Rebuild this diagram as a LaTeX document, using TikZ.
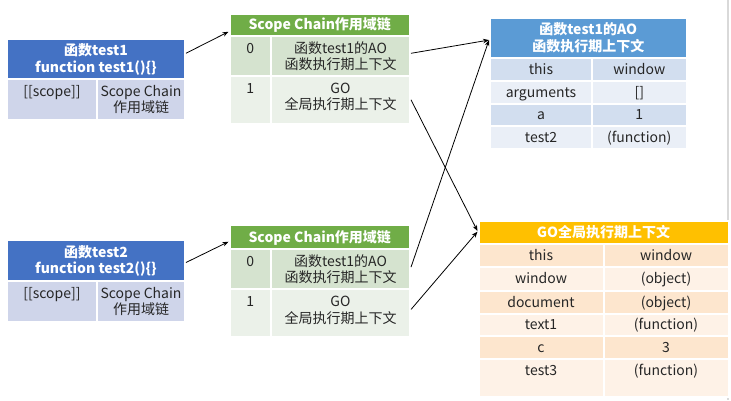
\documentclass[tikz,border=0pt]{standalone}
\usepackage{fontspec}
\setmainfont{Noto Sans CJK SC}
\usetikzlibrary{arrows.meta}
\definecolor{hblue}{HTML}{4472C4}
\definecolor{lblue}{HTML}{CFD5EA}
\definecolor{hgreen}{HTML}{70AD47}
\definecolor{gA}{HTML}{D5E3CF}
\definecolor{gB}{HTML}{EBF1E9}
\definecolor{aoblue}{HTML}{5B9BD5}
\definecolor{aA}{HTML}{D2DEEF}
\definecolor{aB}{HTML}{EAEFF7}
\definecolor{hgold}{HTML}{FFC000}
\definecolor{oA}{HTML}{FDE6CE}
\definecolor{oB}{HTML}{FEF2E7}
\definecolor{tgray}{HTML}{262626}
\definecolor{edgegray}{HTML}{D9D9D9}
\newcommand\fsz{\fontsize{14}{16.7}\selectfont}
\tikzset{
  cell/.style={draw=white, line width=2pt, inner sep=0pt, anchor=north west,
    text height=10pt, text depth=0pt, align=center, font=\fsz, text=tgray},
  head/.style={font=\fsz\bfseries, text=white},
  two/.style={text height=26.7pt},
  txt/.style={inner sep=0pt, text height=10pt, text depth=0pt, align=center,
    font=\fsz, text=tgray, anchor=north},
  arr/.style={draw=black, line width=0.8pt, -{Stealth[length=6pt,width=4.5pt]}}
}
% #1 extra options, #2 name, #3 fill, #4 x1, #5 y1, #6 x2, #7 y2, #8 text
\newcommand\mkcell[8][]{%
  \node[cell, fill=#3, minimum width={#6-#4}, minimum height={#7-#5}, #1] (#2) at (#4,#5) {#8};}
\begin{document}
\begin{tikzpicture}[x=1pt,y=-1pt]
\useasboundingbox (0,0) rectangle (731,400);
\fill[white] (0,0) rectangle (731,400);
\draw[edgegray, line width=1.2pt] (728,0) -- (728,400);

% ---- function test1
\mkcell[head,two]{t1h}{hblue}{6}{37.5}{184}{78}{函数test1\\function test1()\{\}}
\mkcell{t1a}{lblue}{6}{78}{96}{118.5}{}
\mkcell{t1b}{lblue}{96}{78}{184}{118.5}{}
\node[txt] (t1at) at ([yshift=-8pt]t1a.north) {[[scope]]};
\node[txt,two] (t1bt) at ([yshift=-8pt]t1b.north) {Scope Chain\\作用域链};

% ---- function test2
\mkcell[head,two]{t2h}{hblue}{6}{239}{184}{280}{函数test2\\function test2()\{\}}
\mkcell{t2a}{lblue}{6}{280}{96}{320.5}{}
\mkcell{t2b}{lblue}{96}{280}{184}{320.5}{}
\node[txt] (t2at) at ([yshift=-8pt]t2a.north) {[[scope]]};
\node[txt,two] (t2bt) at ([yshift=-8pt]t2b.north) {Scope Chain\\作用域链};

% ---- scope chain 1
\mkcell[head]{s1h}{hgreen}{228.5}{12.5}{409}{35}{Scope Chain作用域链}
\mkcell{s1a}{gA}{228.5}{35}{270}{75}{}
\mkcell{s1b}{gA}{270}{35}{409}{75}{}
\mkcell{s1c}{gB}{228.5}{75}{270}{122.5}{}
\mkcell{s1d}{gB}{270}{75}{409}{122.5}{}
\node[txt] (s1at) at ([yshift=-8pt]s1a.north) {0};
\node[txt,two] (s1bt) at ([yshift=-8pt]s1b.north) {函数test1的AO\\函数执行期上下文};
\node[txt] (s1ct) at ([yshift=-8pt]s1c.north) {1};
\node[txt,two] (s1dt) at ([yshift=-8pt]s1d.north) {GO\\全局执行期上下文};

% ---- scope chain 2
\mkcell[head]{s2h}{hgreen}{228.5}{224}{409}{248}{Scope Chain作用域链}
\mkcell{s2a}{gA}{228.5}{248}{270}{288.3}{}
\mkcell{s2b}{gA}{270}{248}{409}{288.3}{}
\mkcell{s2c}{gB}{228.5}{288.3}{270}{336}{}
\mkcell{s2d}{gB}{270}{288.3}{409}{336}{}
\node[txt] (s2at) at ([yshift=-8pt]s2a.north) {0};
\node[txt,two] (s2bt) at ([yshift=-8pt]s2b.north) {函数test1的AO\\函数执行期上下文};
\node[txt] (s2ct) at ([yshift=-8pt]s2c.north) {1};
\node[txt,two] (s2dt) at ([yshift=-8pt]s2d.north) {GO\\全局执行期上下文};

% ---- AO of test1
\mkcell[head,two]{aoh}{aoblue}{489}{16.5}{685.5}{57}{函数test1的AO\\函数执行期上下文}
\mkcell{ao1a}{aA}{489}{57}{591}{80}{this}
\mkcell{ao1b}{aA}{591}{57}{685.5}{80}{window}
\mkcell{ao2a}{aB}{489}{80}{591}{102.5}{arguments}
\mkcell{ao2b}{aB}{591}{80}{685.5}{102.5}{[]}
\mkcell{ao3a}{aA}{489}{102.5}{591}{125.3}{a}
\mkcell{ao3b}{aA}{591}{102.5}{685.5}{125.3}{1}
\mkcell{ao4a}{aB}{489}{125.3}{591}{148}{test2}
\mkcell{ao4b}{aB}{591}{125.3}{685.5}{148}{(function)}

% ---- GO
\mkcell[head]{goh}{hgold}{477.5}{220}{727.5}{243.3}{GO全局执行期上下文}
\mkcell{go1a}{oA}{477.5}{243.3}{602.5}{266.4}{this}
\mkcell{go1b}{oA}{602.5}{243.3}{727.5}{266.4}{window}
\mkcell{go2a}{oB}{477.5}{266.4}{602.5}{289.5}{window}
\mkcell{go2b}{oB}{602.5}{266.4}{727.5}{289.5}{(object)}
\mkcell{go3a}{oA}{477.5}{289.5}{602.5}{312.5}{document}
\mkcell{go3b}{oA}{602.5}{289.5}{727.5}{312.5}{(object)}
\mkcell{go4a}{oB}{477.5}{312.5}{602.5}{335}{text1}
\mkcell{go4b}{oB}{602.5}{312.5}{727.5}{335}{(function)}
\mkcell{go5a}{oA}{477.5}{335}{602.5}{357.5}{c}
\mkcell{go5b}{oA}{602.5}{335}{727.5}{357.5}{3}
\mkcell{go6a}{oB}{477.5}{357.5}{602.5}{396}{}
\mkcell{go6b}{oB}{602.5}{357.5}{727.5}{396}{}
\node[txt] (go6at) at ([yshift=-8pt]go6a.north) {test3};
\node[txt] (go6bt) at ([yshift=-8pt]go6b.north) {(function)};

% ---- connectors
\draw[arr] ([yshift=5.5pt]t1h.east) -- ([yshift=-7pt]s1h.west);
\draw[arr] ([yshift=-2pt]t2h.east) -- ([yshift=-4.7pt]s2h.west);
\draw[arr] ([yshift=2.7pt]s1b.east) -- ([yshift=-2.3pt]aoh.west);
\draw[arr] (s1d.east) -- ([yshift=1.6pt]goh.west);
\draw[arr] ([yshift=2pt]s2b.east) -- ([yshift=-2.3pt]aoh.west);
\draw[arr] ([yshift=3.7pt]s2d.east) -- ([yshift=1pt]goh.west);
\end{tikzpicture}
\end{document}
